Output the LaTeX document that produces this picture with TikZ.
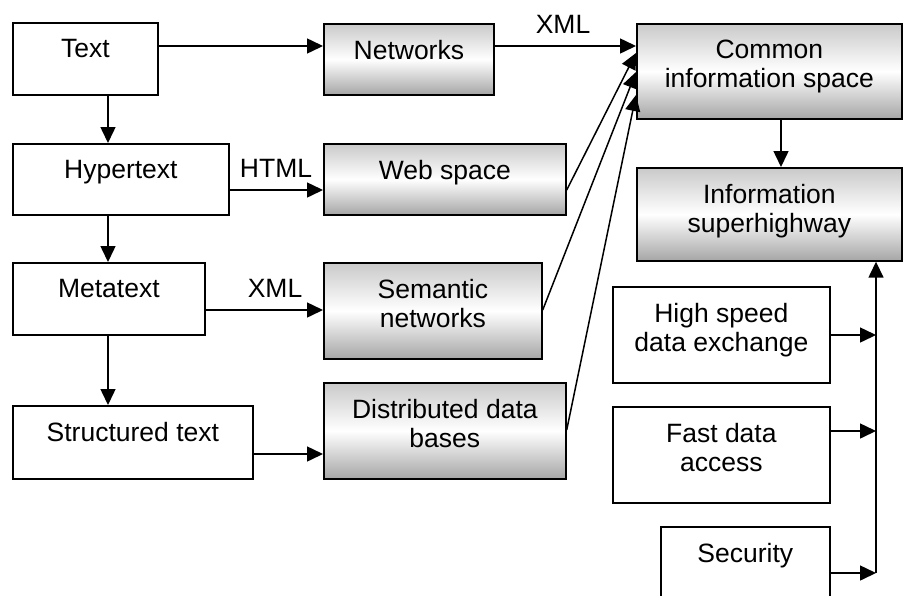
\documentclass[tikz,border=0pt]{standalone}
\usepackage{fontspec}
\setmainfont{Liberation Sans}
\usetikzlibrary{arrows.meta,calc}
\begin{document}
\begin{tikzpicture}[x=1pt,y=-1pt,
  box/.style={draw, line width=1.7pt, inner sep=0pt, anchor=north west},
  shadedbox/.style={box, top color=gray!42, bottom color=gray!70, middle color=white},
  lbl/.style={font=\fontsize{26.5}{29}\selectfont, align=center, inner sep=0pt, anchor=north, yshift=-17pt},
  tag/.style={font=\fontsize{26.5}{29}\selectfont, inner sep=0pt},
  arr/.style={line width=1.5pt, -{Triangle[length=16pt,width=15pt]}}]
\useasboundingbox (0,0) rectangle (912,595);
\clip (0,0) rectangle (912,595);

% text forms (left column)
\node[box, minimum width=145pt, minimum height=72pt, label={[lbl]north:Text}] (text) at (12,22) {};
\node[box, minimum width=216pt, minimum height=71pt, label={[lbl]north:Hypertext}] (hyper) at (12,143) {};
\node[box, minimum width=192pt, minimum height=72pt, label={[lbl]north:Metatext}] (meta) at (12,262) {};
\node[box, minimum width=240pt, minimum height=73pt, label={[lbl]north:Structured text}] (struct) at (12,405) {};

% information structures (middle column)
\node[shadedbox, minimum width=170pt, minimum height=71pt, label={[lbl]north:Networks}] (net) at (323,23) {};
\node[shadedbox, minimum width=242pt, minimum height=71pt, label={[lbl]north:Web space}] (web) at (323,143) {};
\node[shadedbox, minimum width=218pt, minimum height=96pt, label={[lbl]north:Semantic\\networks}] (sem) at (323,262) {};
\node[shadedbox, minimum width=242pt, minimum height=96pt, label={[lbl]north:Distributed data\\bases}] (dist) at (323,382) {};

% right column
\node[shadedbox, minimum width=265pt, minimum height=95pt, label={[lbl]north:Common\\information space}] (cis) at (636,23) {};
\node[shadedbox, minimum width=265pt, minimum height=93pt, label={[lbl]north:Information\\superhighway}] (ish) at (636,167) {};
\node[box, minimum width=217pt, minimum height=96pt, label={[lbl]north:High speed\\data exchange}] (hsd) at (612,286) {};
\node[box, minimum width=217pt, minimum height=96pt, label={[lbl]north:Fast data\\access}] (fda) at (612,406) {};
\node[box, minimum width=169pt, minimum height=90pt, label={[lbl]north:Security}] (sec) at (660,526) {};

% vertical chain of text forms
\draw[arr] ($(text.south west)+(96,0)$) coordinate (v1) -- (v1 |- hyper.north);
\draw[arr] ($(hyper.south west)+(96,0)$) coordinate (v2) -- (v2 |- meta.north);
\draw[arr] ($(meta.south west)+(96,0)$) coordinate (v3) -- (v3 |- struct.north);

% text forms to structures
\draw[arr] ($(text.north east)+(0,24)$) coordinate (h1) -- (h1 -| net.west);
\draw[arr] ($(hyper.north east)+(0,47)$) coordinate (h2) -- (h2 -| web.west);
\draw[arr] ($(meta.north east)+(0,48)$) coordinate (h3) -- (h3 -| sem.west);
\draw[arr] ($(struct.north east)+(0,49)$) coordinate (h4) -- (h4 -| dist.west);
\node[tag] (lhtml) at (276,168) {HTML};
\node[tag] (lxml2) at (275,288) {XML};

% structures into the common information space
\draw[arr] ($(net.north east)+(0,23)$) coordinate (n1) -- (n1 -| cis.west);
\node[tag] (lxml1) at (563,24) {XML};
\draw[arr] ($(web.north east)+(0,47)$) -- ($(cis.north west)+(0,30)$);
\draw[arr] ($(sem.north east)+(0,48)$) -- ($(cis.north west)+(0,49)$);
\draw[arr] ($(dist.north east)+(0,48)$) -- ($(cis.north west)+(0,72)$);

\draw[arr] ($(cis.south west)+(145,0)$) coordinate (c1) -- (c1 |- ish.north);

% supporting services bus
\coordinate (busb) at (876,573);
\draw[arr] (busb) -- (busb |- ish.south);
\draw[arr] ($(hsd.north east)+(0,49)$) coordinate (s1) -- (s1 -| busb);
\draw[arr] ($(fda.north east)+(0,25)$) coordinate (s2) -- (s2 -| busb);
\draw[arr] (sec.east |- busb) -- (busb);
\end{tikzpicture}
\end{document}
